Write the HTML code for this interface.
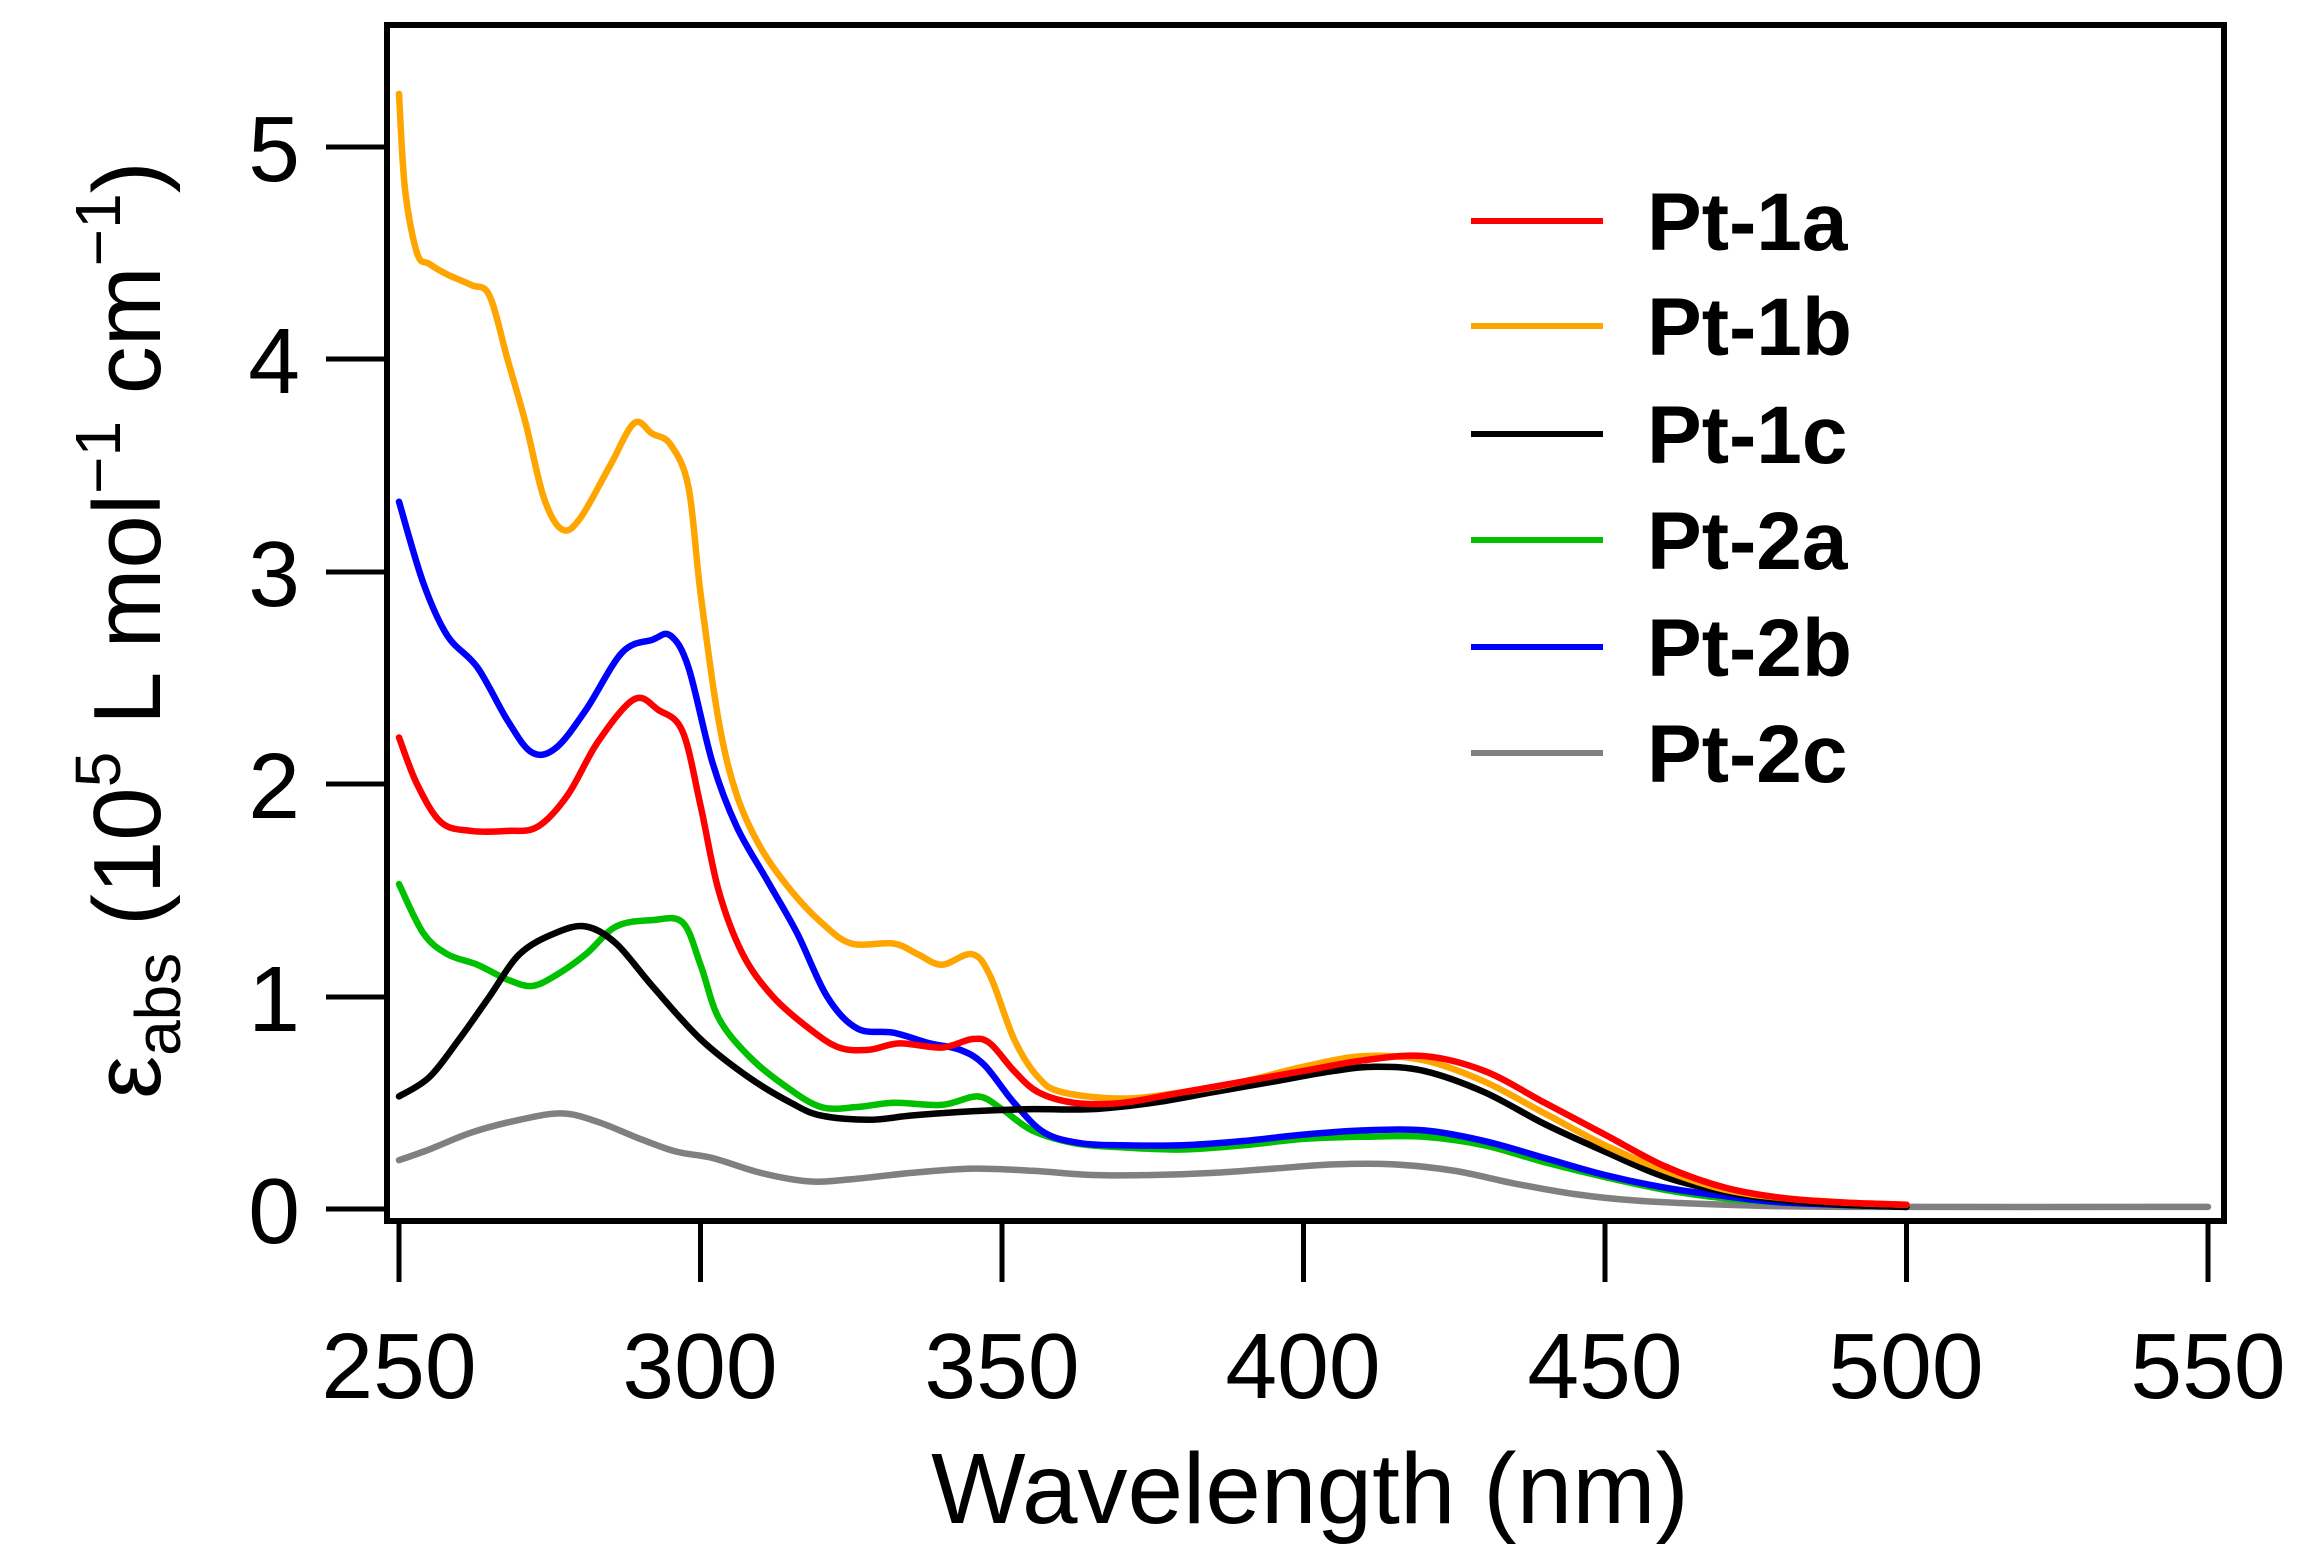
<!DOCTYPE html>
<html><head><meta charset="utf-8"><style>
html,body{margin:0;padding:0;background:#fff;}
svg{display:block;}
text{font-family:"Liberation Sans",Arial,sans-serif;}
</style></head><body>
<svg id="s" width="2306" height="1565" viewBox="0 0 2306 1565" xmlns="http://www.w3.org/2000/svg">
<rect x="0" y="0" width="2306" height="1565" fill="#fff"/>
<g id="curves" fill="none" stroke-width="6.5" stroke-linejoin="round" stroke-linecap="round"></g>
<rect x="387" y="25" width="1837" height="1196" fill="none" stroke="#000" stroke-width="6"/>
<g stroke="#000" stroke-width="5">
<line x1="326" y1="1209" x2="387" y2="1209"/><line x1="326" y1="997" x2="387" y2="997"/><line x1="326" y1="784" x2="387" y2="784"/><line x1="326" y1="572" x2="387" y2="572"/><line x1="326" y1="359" x2="387" y2="359"/><line x1="326" y1="147" x2="387" y2="147"/>
<line x1="399" y1="1221" x2="399" y2="1282"/><line x1="700.5" y1="1221" x2="700.5" y2="1282"/><line x1="1002" y1="1221" x2="1002" y2="1282"/><line x1="1303.5" y1="1221" x2="1303.5" y2="1282"/><line x1="1605" y1="1221" x2="1605" y2="1282"/><line x1="1906.5" y1="1221" x2="1906.5" y2="1282"/><line x1="2208" y1="1221" x2="2208" y2="1282"/>
</g>
<g font-size="93" text-anchor="end">
<text x="300" y="1243">0</text><text x="300" y="1031">1</text><text x="300" y="818">2</text><text x="300" y="606">3</text><text x="300" y="393">4</text><text x="300" y="181">5</text>
</g>
<g font-size="93" text-anchor="middle">
<text x="399" y="1398">250</text><text x="700" y="1398">300</text><text x="1002" y="1398">350</text><text x="1303" y="1398">400</text><text x="1605" y="1398">450</text><text x="1906" y="1398">500</text><text x="2208" y="1398">550</text>
</g>
<text x="1310" y="1523" font-size="100" text-anchor="middle">Wavelength (nm)</text>
<g transform="translate(160,630) rotate(-90)" font-size="96">
<text x="0" y="0" text-anchor="middle">ε<tspan font-size="64" dy="20">abs</tspan><tspan dy="-20"> (10</tspan><tspan font-size="64" dy="-40">5</tspan><tspan dy="40"> L mol</tspan><tspan font-size="64" dy="-40">−1</tspan><tspan dy="40"> cm</tspan><tspan font-size="64" dy="-40">−1</tspan><tspan dy="40">)</tspan></text>
</g>
<g stroke-width="6">
<line x1="1471" y1="221" x2="1603" y2="221" stroke="#ff0000"/>
<line x1="1471" y1="326" x2="1603" y2="326" stroke="#ffa500"/>
<line x1="1471" y1="434" x2="1603" y2="434" stroke="#000"/>
<line x1="1471" y1="540" x2="1603" y2="540" stroke="#00c000"/>
<line x1="1471" y1="647" x2="1603" y2="647" stroke="#0000ff"/>
<line x1="1471" y1="753" x2="1603" y2="753" stroke="#808080"/>
</g>
<g font-size="82" font-weight="bold">
<text x="1647" y="250">Pt-1a</text><text x="1647" y="355">Pt-1b</text><text x="1647" y="463">Pt-1c</text><text x="1647" y="569">Pt-2a</text><text x="1647" y="676">Pt-2b</text><text x="1647" y="782">Pt-2c</text>
</g>
</svg>
<script>
var D={
"#808080":[250,.23,255,.28,262,.36,270,.42,277,.45,283,.41,290,.33,296,.27,302,.24,310,.17,318,.13,325,.14,335,.17,345,.19,355,.18,365,.16,375,.16,385,.17,395,.19,405,.21,415,.21,425,.18,435,.12,445,.07,455,.04,470,.02,490,.01,550,.01],
"#000000":[250,.53,255,.62,260,.8,265,1.0,270,1.2,276,1.3,281,1.33,286,1.25,292,1.05,300,.8,308,.62,315,.5,320,.44,328,.42,335,.44,345,.46,355,.47,365,.47,375,.5,385,.55,395,.6,405,.65,412,.67,420,.65,430,.55,440,.4,450,.27,460,.15,470,.08,480,.04,490,.02,500,.01],
"#00c000":[250,1.53,254,1.3,258,1.2,263,1.15,268,1.08,272,1.05,276,1.1,281,1.2,286,1.33,292,1.36,297,1.35,300,1.15,303,.9,308,.72,314,.58,320,.48,326,.48,332,.5,340,.49,346,.53,350,.47,355,.37,362,.31,370,.29,380,.28,390,.3,400,.33,410,.34,420,.34,430,.3,440,.22,450,.15,460,.09,470,.05,480,.03,500,.01],
"#0000ff":[250,3.33,254,2.95,258,2.7,263,2.55,268,2.3,272,2.15,276,2.17,281,2.35,287,2.62,292,2.68,295,2.7,298,2.55,302,2.1,306,1.8,311,1.55,316,1.3,321,1.0,326,.85,332,.83,338,.78,343,.75,347,.68,352,.5,357,.36,363,.31,370,.3,380,.3,390,.32,400,.35,410,.37,420,.37,430,.32,440,.24,450,.16,460,.1,470,.06,480,.03,500,.01],
"#ff0000":[250,2.22,253,2.0,257,1.82,262,1.78,268,1.78,273,1.8,278,1.95,283,2.2,289,2.4,293,2.35,297,2.25,300,1.9,303,1.5,307,1.2,312,1.0,318,.85,323,.76,328,.75,333,.78,340,.76,345,.8,348,.78,352,.65,356,.55,362,.5,370,.5,380,.55,390,.6,400,.65,410,.7,420,.72,430,.65,440,.5,450,.35,460,.2,470,.1,480,.05,490,.03,500,.02],
"#ffa500":[250,5.25,251,4.8,253,4.5,255,4.45,258,4.4,262,4.35,265,4.3,268,4.0,271,3.7,274,3.35,277,3.2,280,3.25,285,3.5,289,3.7,292,3.65,295,3.6,298,3.4,300,2.9,303,2.3,306,1.95,310,1.7,315,1.5,320,1.35,325,1.25,332,1.25,336,1.2,340,1.15,345,1.2,348,1.1,352,.8,356,.62,360,.55,370,.52,380,.55,390,.6,400,.67,410,.72,420,.7,430,.6,440,.45,450,.3,460,.18,470,.09,480,.05,490,.03,500,.02]
};
var g=document.getElementById("curves"),ns="http://www.w3.org/2000/svg";
var order=["#808080","#00c000","#0000ff","#000000","#ffa500","#ff0000"];
order.forEach(function(c){var a=D[c],p=[];for(var i=0;i<a.length;i+=2)p.push([399+6.03*(a[i]-250),1209-212.4*a[i+1]]);
var d="M"+p[0][0]+","+p[0][1];
for(var i=0;i<p.length-1;i++){var p0=p[i-1]||p[i],p1=p[i],p2=p[i+1],p3=p[i+2]||p2;
d+=" C"+(p1[0]+(p2[0]-p0[0])/6)+","+(p1[1]+(p2[1]-p0[1])/6)+" "+(p2[0]-(p3[0]-p1[0])/6)+","+(p2[1]-(p3[1]-p1[1])/6)+" "+p2[0]+","+p2[1];}
var e=document.createElementNS(ns,"path");e.setAttribute("d",d);e.setAttribute("stroke",c);g.appendChild(e);});
</script>
</body></html>
